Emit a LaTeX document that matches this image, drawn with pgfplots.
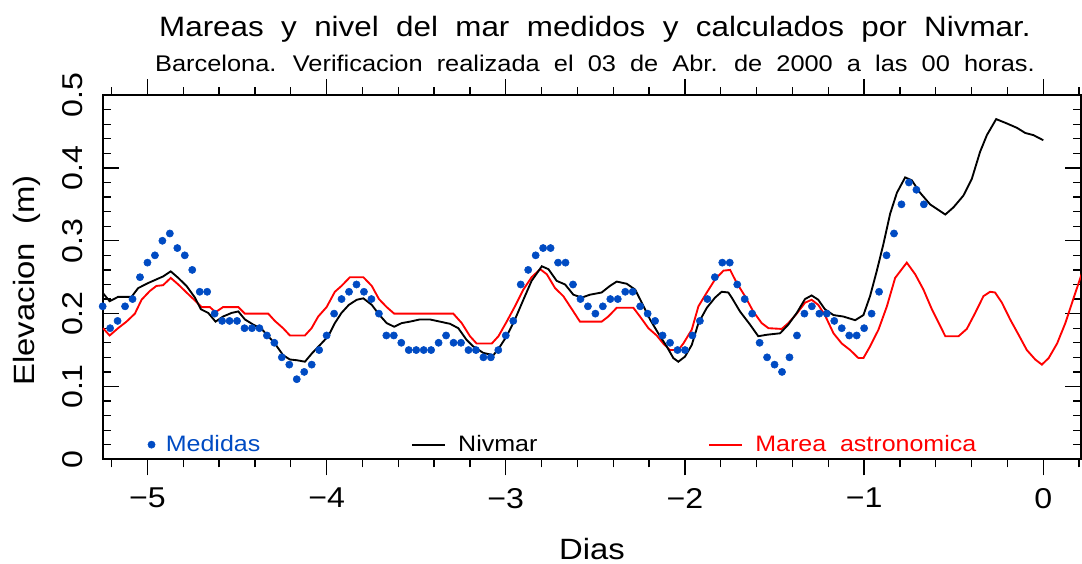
\documentclass[border=0pt]{standalone}
\usepackage{fontspec}
\setmainfont{Liberation Sans}[FakeStretch=1.12,WordSpace=2]
\usepackage{pgfplots}
\pgfplotsset{compat=1.18}
\pgfplotsset{lineleg/.style={legend image code/.code={\draw[##1] (0pt,0pt) -- (25pt,0pt);}}}
\definecolor{medblue}{RGB}{0,75,195}
\definecolor{marred}{RGB}{255,0,0}
\begin{document}
\begin{tikzpicture}
\path[use as bounding box] (-77pt,-77.8pt) rectangle (734.5pt,344.5pt);
\begin{axis}[
  name=main, at={(0pt,0pt)}, anchor=south west,
  scale only axis, width=733.7pt, height=273.2pt,
  xmin=-5.25, xmax=0.21, ymin=0, ymax=0.5,
  xtick=\empty,
  ytick={0,0.1,0.2,0.3,0.4,0.5},
  yticklabels={0,0.1,0.2,0.3,0.4,0.5},
  minor y tick num=4,
  tick align=inside,
  major tick length=12pt, minor tick length=6pt,
  every tick/.style={black, line width=1pt},
  axis line style={line width=1.3pt},
  yticklabel style={xshift=-15pt, rotate=90, anchor=south, inner sep=0pt, font=\fontsize{21.5pt}{22pt}\selectfont},
  legend columns=3,
  reverse legend,
  legend style={draw=none, fill=none, at={(0.046,0.0073)}, anchor=south west, inner sep=0pt,
    font=\fontsize{16.75pt}{18pt}\selectfont, nodes={inner sep=2pt},
    /tikz/column 1/.style={column sep=6pt},
    /tikz/column 2/.style={column sep=111pt},
    /tikz/column 3/.style={column sep=7pt},
    /tikz/column 4/.style={column sep=126pt},
    /tikz/column 5/.style={column sep=7pt},
  },
]
\addplot[marred, line width=1.4pt, lineleg] coordinates {
(-5.248,0.180)(-5.211,0.170)(-5.164,0.180)(-5.117,0.189)(-5.070,0.200)(-5.033,0.219)(-4.987,0.231)(-4.950,0.238)(-4.913,0.239)(-4.870,0.249)(-4.828,0.240)(-4.782,0.229)(-4.735,0.218)(-4.698,0.209)(-4.652,0.209)(-4.620,0.202)(-4.578,0.209)(-4.493,0.209)(-4.456,0.200)(-4.326,0.200)(-4.289,0.190)(-4.243,0.180)(-4.205,0.170)(-4.121,0.170)(-4.084,0.180)(-4.047,0.196)(-4.000,0.209)(-3.954,0.230)(-3.917,0.238)(-3.870,0.250)(-3.795,0.250)(-3.748,0.238)(-3.708,0.220)(-3.665,0.209)(-3.623,0.200)(-3.293,0.200)(-3.246,0.187)(-3.200,0.169)(-3.163,0.159)(-3.078,0.159)(-3.041,0.169)(-2.995,0.189)(-2.949,0.210)(-2.902,0.233)(-2.856,0.250)(-2.808,0.261)(-2.771,0.254)(-2.725,0.235)(-2.679,0.224)(-2.623,0.203)(-2.586,0.189)(-2.465,0.189)(-2.428,0.196)(-2.381,0.208)(-2.288,0.208)(-2.251,0.196)(-2.204,0.180)(-2.158,0.170)(-2.121,0.159)(-2.084,0.150)(-2.037,0.150)(-2.009,0.159)(-1.962,0.178)(-1.925,0.210)(-1.878,0.229)(-1.832,0.247)(-1.785,0.259)(-1.748,0.260)(-1.711,0.242)(-1.665,0.224)(-1.619,0.203)(-1.572,0.187)(-1.534,0.180)(-1.460,0.179)(-1.423,0.187)(-1.376,0.200)(-1.330,0.215)(-1.293,0.219)(-1.256,0.212)(-1.219,0.198)(-1.171,0.173)(-1.125,0.159)(-1.078,0.150)(-1.032,0.139)(-1.004,0.139)(-0.967,0.155)(-0.920,0.178)(-0.873,0.210)(-0.827,0.249)(-0.762,0.270)(-0.715,0.254)(-0.669,0.233)(-0.622,0.206)(-0.547,0.169)(-0.473,0.169)(-0.427,0.179)(-0.380,0.201)(-0.334,0.224)(-0.297,0.230)(-0.269,0.229)(-0.231,0.215)(-0.185,0.192)(-0.138,0.171)(-0.092,0.150)(-0.045,0.137)(-0.008,0.130)(0.030,0.139)(0.077,0.159)(0.123,0.187)(0.170,0.222)(0.219,0.258)
};
\addlegendentry{\textcolor{marred}{Marea astronomica}}
\addplot[black, line width=1.4pt, lineleg] coordinates {
(-5.248,0.228)(-5.211,0.217)(-5.164,0.223)(-5.089,0.223)(-5.052,0.235)(-4.996,0.242)(-4.950,0.247)(-4.913,0.251)(-4.870,0.258)(-4.828,0.249)(-4.782,0.238)(-4.735,0.222)(-4.702,0.206)(-4.661,0.201)(-4.620,0.189)(-4.578,0.196)(-4.530,0.201)(-4.493,0.203)(-4.456,0.192)(-4.410,0.185)(-4.363,0.179)(-4.326,0.169)(-4.289,0.159)(-4.243,0.143)(-4.205,0.137)(-4.165,0.136)(-4.121,0.134)(-4.080,0.146)(-4.037,0.157)(-3.991,0.169)(-3.954,0.187)(-3.917,0.201)(-3.876,0.212)(-3.832,0.219)(-3.795,0.221)(-3.748,0.212)(-3.708,0.199)(-3.665,0.187)(-3.623,0.182)(-3.581,0.187)(-3.535,0.189)(-3.480,0.192)(-3.424,0.192)(-3.367,0.189)(-3.311,0.186)(-3.265,0.180)(-3.219,0.164)(-3.182,0.155)(-3.125,0.146)(-3.069,0.143)(-3.032,0.155)(-2.995,0.169)(-2.949,0.192)(-2.902,0.219)(-2.856,0.245)(-2.799,0.265)(-2.762,0.261)(-2.716,0.245)(-2.669,0.240)(-2.623,0.226)(-2.576,0.222)(-2.530,0.226)(-2.465,0.229)(-2.419,0.238)(-2.381,0.244)(-2.325,0.241)(-2.278,0.233)(-2.241,0.215)(-2.195,0.192)(-2.149,0.173)(-2.102,0.155)(-2.065,0.139)(-2.037,0.134)(-2.000,0.141)(-1.962,0.157)(-1.925,0.187)(-1.878,0.208)(-1.832,0.222)(-1.795,0.230)(-1.758,0.229)(-1.739,0.222)(-1.693,0.203)(-1.637,0.185)(-1.591,0.169)(-1.543,0.171)(-1.469,0.173)(-1.423,0.185)(-1.376,0.201)(-1.330,0.220)(-1.293,0.225)(-1.256,0.219)(-1.219,0.206)(-1.171,0.198)(-1.116,0.196)(-1.050,0.191)(-1.004,0.198)(-0.967,0.224)(-0.930,0.258)(-0.893,0.295)(-0.855,0.337)(-0.817,0.366)(-0.771,0.387)(-0.734,0.383)(-0.688,0.366)(-0.632,0.350)(-0.547,0.336)(-0.501,0.346)(-0.446,0.362)(-0.399,0.385)(-0.353,0.422)(-0.315,0.445)(-0.263,0.467)(-0.203,0.461)(-0.147,0.455)(-0.101,0.448)(-0.055,0.445)(0.000,0.438)
};
\addlegendentry{Nivmar}
\addplot[only marks, mark=*, mark size=2.7pt, color=medblue, mark options={draw=medblue, fill=medblue}] coordinates {
(-5.25,0.21)(-5.2083,0.18)(-5.1667,0.19)(-5.125,0.21)(-5.0833,0.22)(-5.0417,0.25)(-5,0.27)(-4.9583,0.28)(-4.9167,0.30)(-4.875,0.31)(-4.8333,0.29)(-4.7917,0.28)(-4.75,0.26)(-4.7083,0.23)(-4.6667,0.23)(-4.625,0.20)(-4.5833,0.19)(-4.5417,0.19)(-4.5,0.19)(-4.4583,0.18)(-4.4167,0.18)(-4.375,0.18)(-4.3333,0.17)(-4.2917,0.16)(-4.25,0.14)(-4.2083,0.13)(-4.1667,0.11)(-4.125,0.12)(-4.0833,0.13)(-4.0417,0.15)(-4,0.17)(-3.9583,0.20)(-3.9167,0.22)(-3.875,0.23)(-3.8333,0.24)(-3.7917,0.23)(-3.75,0.22)(-3.7083,0.20)(-3.6667,0.17)(-3.625,0.17)(-3.5833,0.16)(-3.5417,0.15)(-3.5,0.15)(-3.4583,0.15)(-3.4167,0.15)(-3.375,0.16)(-3.3333,0.17)(-3.2917,0.16)(-3.25,0.16)(-3.2083,0.15)(-3.1667,0.15)(-3.125,0.14)(-3.0833,0.14)(-3.0417,0.15)(-3,0.17)(-2.9583,0.19)(-2.9167,0.24)(-2.875,0.26)(-2.8333,0.28)(-2.7917,0.29)(-2.75,0.29)(-2.7083,0.27)(-2.6667,0.27)(-2.625,0.24)(-2.5833,0.22)(-2.5417,0.21)(-2.5,0.20)(-2.4583,0.21)(-2.4167,0.22)(-2.375,0.22)(-2.3333,0.23)(-2.2917,0.23)(-2.25,0.21)(-2.2083,0.20)(-2.1667,0.19)(-2.125,0.17)(-2.0833,0.16)(-2.0417,0.15)(-2,0.15)(-1.9583,0.17)(-1.9167,0.19)(-1.875,0.22)(-1.8333,0.25)(-1.7917,0.27)(-1.75,0.27)(-1.7083,0.24)(-1.6667,0.22)(-1.625,0.20)(-1.5833,0.16)(-1.5417,0.14)(-1.5,0.13)(-1.4583,0.12)(-1.4167,0.14)(-1.375,0.17)(-1.3333,0.20)(-1.2917,0.21)(-1.25,0.20)(-1.2083,0.20)(-1.1667,0.19)(-1.125,0.18)(-1.0833,0.17)(-1.0417,0.17)(-1,0.18)(-0.9583,0.20)(-0.9167,0.23)(-0.875,0.28)(-0.8333,0.31)(-0.7917,0.35)(-0.75,0.38)(-0.7083,0.37)(-0.6667,0.35)
};
\addlegendentry{\textcolor{medblue}{Medidas}}
\end{axis}
\begin{axis}[
  at={(0pt,0pt)}, anchor=south west,
  scale only axis, width=733.7pt, height=273.2pt,
  xmin=-5.25, xmax=0.21, ymin=0, ymax=0.5,
  ytick=\empty,
  xtick={-5,-4,-3,-2,-1,0},
  xticklabels={−5,−4,−3,−2,−1,0},
  minor xtick={-5.2,-4.8,-4.6,-4.4,-4.2,-3.8,-3.6,-3.4,-3.2,-2.8,-2.6,-2.4,-2.2,-1.8,-1.6,-1.4,-1.2,-0.8,-0.6,-0.4,-0.2,0.2},
  tick align=outside,
  major tick length=12pt, minor tick length=6pt,
  every tick/.style={black, line width=1pt},
  axis line style={draw=none},
  xticklabel style={anchor=north, inner sep=0pt, yshift=-9.5pt, font=\fontsize{21.5pt}{22pt}\selectfont},
]
\end{axis}
\node[anchor=base, font=\fontsize{21pt}{22pt}\selectfont] at (369.2pt,317pt) {Mareas y nivel del mar medidos y calculados por Nivmar.};
\node[anchor=base, font=\fontsize{17pt}{18pt}\selectfont] at (369.2pt,290.7pt) {Barcelona. Verificacion realizada el 03 de Abr. de 2000 a las 00 horas.};
\node[anchor=base, font=\fontsize{22pt}{22pt}\selectfont] at (367pt,-74.8pt) {Dias};
\node[anchor=base, rotate=90, font=\fontsize{22pt}{22pt}\selectfont] at (-50.8pt,134.1pt) {Elevacion (m)};
\end{tikzpicture}
\end{document}
